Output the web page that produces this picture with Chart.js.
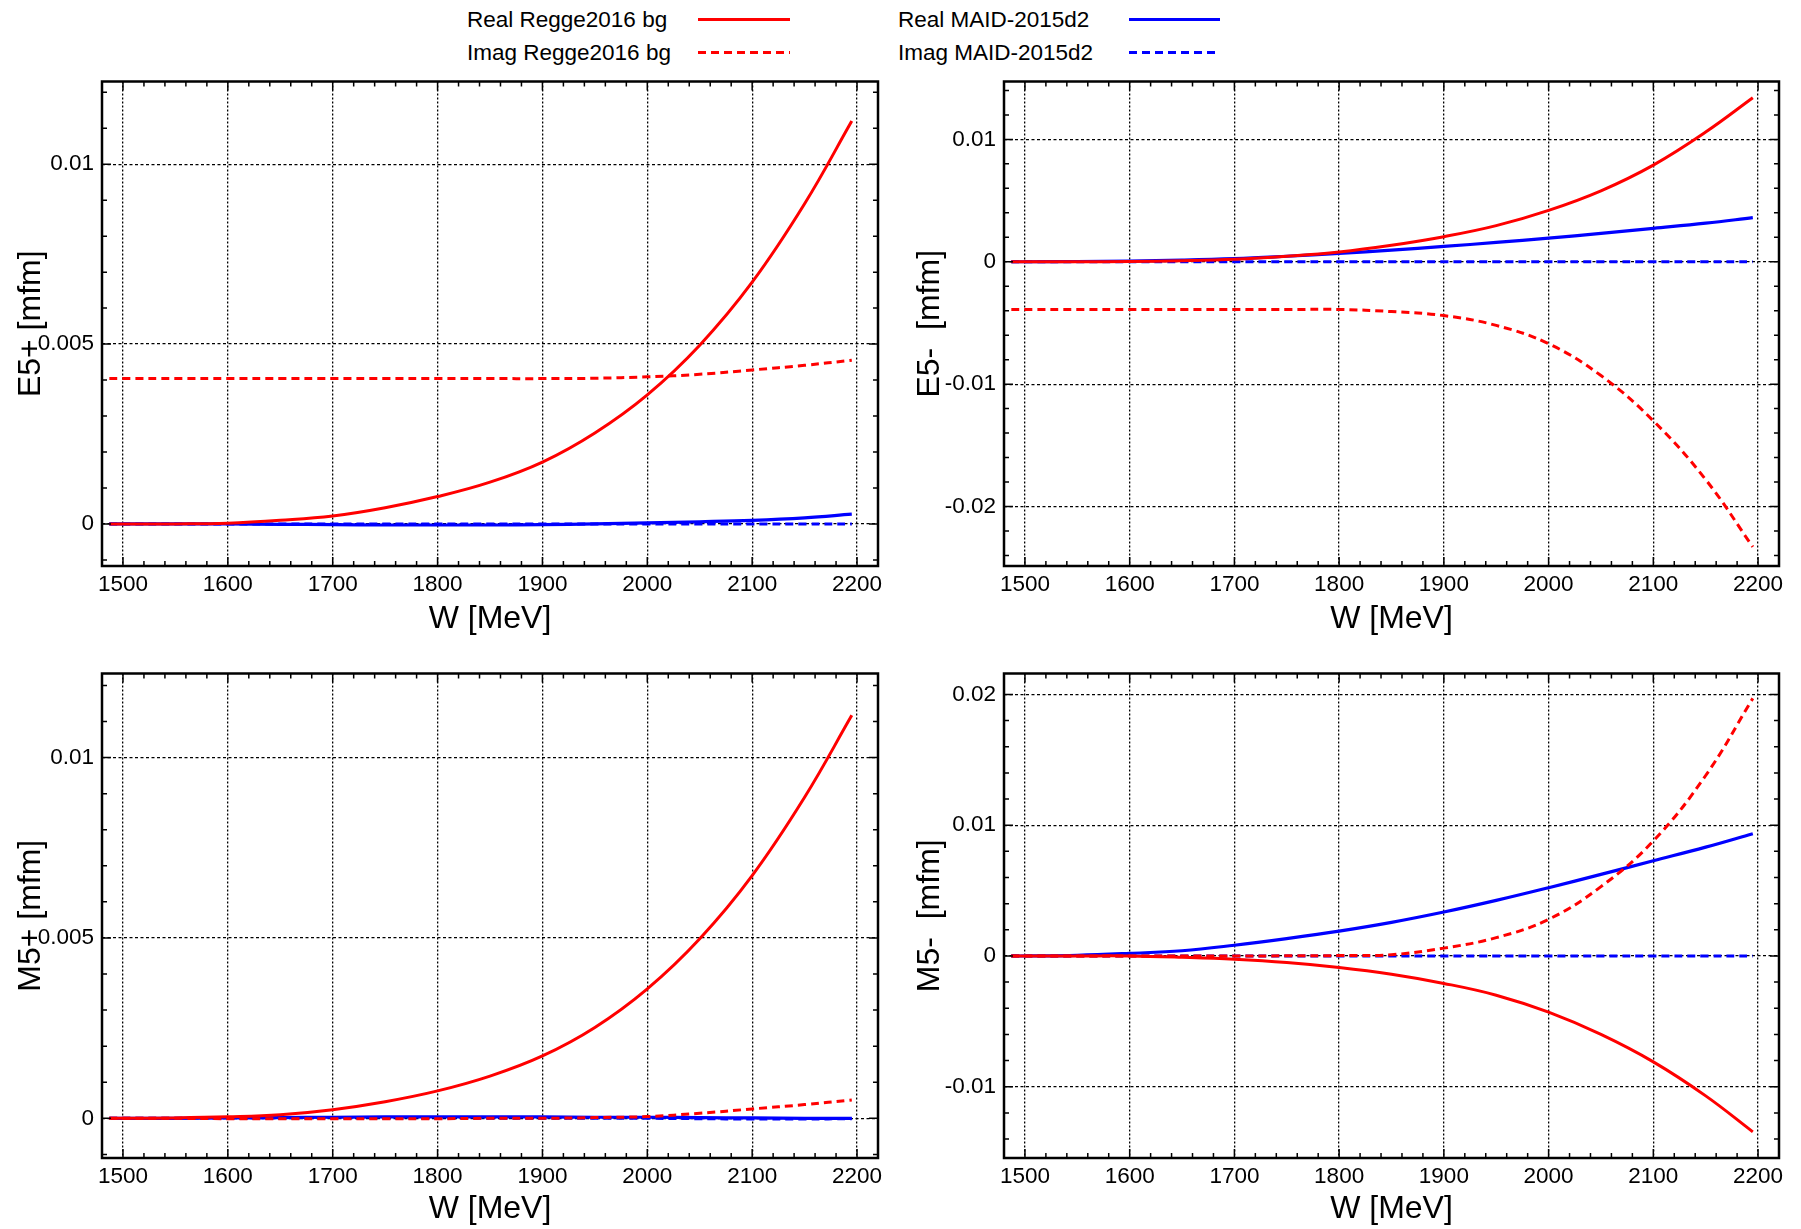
<!DOCTYPE html>
<html>
<head>
<meta charset="utf-8">
<script src="https://cdn.jsdelivr.net/npm/chart.js@4.4.1/dist/chart.umd.min.js"></script>
<style>
  body { margin: 0; background: #fff; width: 1801px; height: 1229px; position: relative; overflow: hidden;
         font-family: "Liberation Sans", Arial, sans-serif; }
  .panel { position: absolute; }
  .leg { position: absolute; font-size: 22.5px; line-height: 22px; white-space: pre; color: #000; }
  svg { position: absolute; left: 0; top: 0; }
</style>
</head>
<body>

<div class="leg" style="left:467px;top:9px">Real Regge2016 bg</div>
<div class="leg" style="left:467px;top:42px">Imag Regge2016 bg</div>
<div class="leg" style="left:898px;top:9px">Real MAID-2015d2</div>
<div class="leg" style="left:898px;top:42px">Imag MAID-2015d2</div>
<svg width="1801" height="70">
  <line x1="698" y1="19.5" x2="790" y2="19.5" stroke="#ff0000" stroke-width="3"/>
  <line x1="698" y1="52.5" x2="790" y2="52.5" stroke="#ff0000" stroke-width="3" stroke-dasharray="8,5"/>
  <line x1="1129" y1="19.5" x2="1220" y2="19.5" stroke="#0000ff" stroke-width="3"/>
  <line x1="1129" y1="52.5" x2="1220" y2="52.5" stroke="#0000ff" stroke-width="3" stroke-dasharray="8,5"/>
</svg>

<div class="panel" style="left:0px;top:60px;width:900px;height:600px"><canvas id="e5p"></canvas></div>
<div class="panel" style="left:900px;top:60px;width:901px;height:600px"><canvas id="e5m"></canvas></div>
<div class="panel" style="left:0px;top:652px;width:900px;height:577px"><canvas id="m5p"></canvas></div>
<div class="panel" style="left:900px;top:652px;width:901px;height:577px"><canvas id="m5m"></canvas></div>

<script>
// W grid (MeV), shared by every curve
const W = [1487, 1500, 1550, 1600, 1650, 1700, 1750, 1800, 1850, 1900, 1950, 2000, 2050, 2100, 2150, 2195];

// E5+
const e5pRealRegge = [0, 0, 0, 0.00002, 0.0001, 0.00022, 0.00045, 0.00076, 0.00116, 0.00172, 0.00253, 0.00359, 0.00497, 0.00672, 0.0089, 0.0112];
const e5pImagRegge = [0.00404, 0.00404, 0.00404, 0.00404, 0.00404, 0.00404, 0.00404, 0.00404, 0.00404, 0.00404, 0.00405, 0.00409, 0.00416, 0.00428, 0.00441, 0.00455];
const e5pRealMaid  = [0, 0, 0, 0, -0.00001, -0.00002, -0.00003, -0.00003, -0.00003, -0.00002, 0, 0.00003, 0.00006, 0.0001, 0.00017, 0.00027];
const e5pImagMaid  = [0, 0, 0, 0, 0, 0, 0, 0, 0, 0, 0, 0, 0, 0, 0, 0];

// E5-
const e5mRealRegge = [0, 0, 0, 0.00002, 0.00008, 0.0002, 0.00045, 0.0008, 0.00135, 0.00205, 0.00295, 0.0042, 0.0058, 0.0079, 0.0106, 0.0134];
const e5mImagRegge = [-0.0039, -0.0039, -0.0039, -0.0039, -0.0039, -0.0039, -0.0039, -0.0039, -0.00407, -0.0044, -0.0052, -0.0067, -0.0093, -0.013, -0.0178, -0.0233];
const e5mRealMaid  = [0, 0, 0.00002, 0.00006, 0.00013, 0.00025, 0.00045, 0.00068, 0.00095, 0.00125, 0.00158, 0.00193, 0.00232, 0.00273, 0.00315, 0.0036];
const e5mImagMaid  = [0, 0, 0, 0, 0, 0, 0, 0, 0, 0, 0, 0, 0, 0, 0, 0];

// M5+
const m5pRealRegge = [0, 0, 0.00001, 0.00004, 0.0001, 0.00024, 0.00046, 0.00076, 0.00117, 0.00173, 0.00252, 0.00359, 0.00498, 0.00673, 0.0089, 0.01117];
const m5pImagRegge = [0, 0, 0, -0.00001, -0.00001, -0.00001, -0.00001, -0.00001, 0, 0, 0.00002, 0.00005, 0.00014, 0.00026, 0.00038, 0.00051];
const m5pRealMaid  = [0, 0, 0, 0.00001, 0.00002, 0.00003, 0.00004, 0.00004, 0.00004, 0.00004, 0.00003, 0.00003, 0.00002, 0.00001, 0, 0];
const m5pImagMaid  = [0, 0, 0, 0, 0, 0, 0, 0, 0, 0, 0, 0, -0.00001, -0.00002, -0.00002, -0.00001];

// M5-
const m5mRealRegge = [0, 0, 0, 0, -0.0001, -0.00025, -0.0005, -0.00088, -0.0014, -0.0021, -0.003, -0.0043, -0.006, -0.0081, -0.0107, -0.01345];
const m5mImagRegge = [0, 0, 0, 0, 0, 0, 0.00001, 0.00003, 0.0001, 0.0006, 0.0014, 0.0028, 0.0053, 0.0088, 0.0138, 0.0197];
const m5mRealMaid  = [0, 0, 0.00005, 0.0002, 0.0004, 0.00082, 0.00133, 0.0019, 0.00257, 0.00336, 0.00425, 0.00522, 0.00624, 0.00728, 0.00832, 0.00935];
const m5mImagMaid  = [0, 0, 0, 0, 0, 0, 0, 0, 0, 0, 0, 0, 0, 0, 0, 0];

// axis ticks
const xTicks = [1500, 1600, 1700, 1800, 1900, 2000, 2100, 2200];
const xTickLabels = ['1500', '1600', '1700', '1800', '1900', '2000', '2100', '2200'];
const e5pTicks = [0, 0.005, 0.01];
const e5pTickLabels = ['0', '0.005', '0.01'];
const e5mTicks = [-0.02, -0.01, 0, 0.01];
const e5mTickLabels = ['-0.02', '-0.01', '0', '0.01'];
const m5pTicks = [0, 0.005, 0.01];
const m5pTickLabels = ['0', '0.005', '0.01'];
const m5mTicks = [-0.01, 0, 0.01, 0.02];
const m5mTickLabels = ['-0.01', '0', '0.01', '0.02'];

const FONT = 'Liberation Sans';

// frame + inward major/minor ticks on all four sides
const frameTicks = {
    id: 'frameTicks',
    afterDatasetsDraw(chart, args, opts) {
        const { ctx, chartArea: a } = chart;
        const x = chart.scales.x, y = chart.scales.y;
        ctx.save();
        ctx.strokeStyle = '#000';
        ctx.lineWidth = 1.5;
        ctx.beginPath();
        let k0 = Math.ceil(x.min / opts.xStep - 1e-9);
        for (let k = k0; k * opts.xStep <= x.max + 1e-9; k++) {
            let v = k * opts.xStep;
            let px = x.getPixelForValue(v);
            let len = opts.xMajor.some(m => Math.abs(m - v) < opts.xStep / 10) ? 9 : 5;
            ctx.moveTo(px, a.bottom); ctx.lineTo(px, a.bottom - len);
            ctx.moveTo(px, a.top); ctx.lineTo(px, a.top + len);
        }
        k0 = Math.ceil(y.min / opts.yStep - 1e-9);
        for (let k = k0; k * opts.yStep <= y.max + 1e-12; k++) {
            let v = k * opts.yStep;
            let py = y.getPixelForValue(v);
            let len = opts.yMajor.some(m => Math.abs(m - v) < opts.yStep / 10) ? 9 : 5;
            ctx.moveTo(a.left, py); ctx.lineTo(a.left + len, py);
            ctx.moveTo(a.right, py); ctx.lineTo(a.right - len, py);
        }
        ctx.stroke();
        ctx.lineWidth = 2.5;
        ctx.strokeRect(a.left, a.top, a.right - a.left, a.bottom - a.top);
        ctx.restore();
    }
};

function series(arr) {
    return W.map((w, i) => ({ x: w, y: arr[i] }));
}

function makePanel(id, yTitle, data, yMin, yMax, yTicks, yLabels, yStep, geo) {
    let ctx = document.getElementById(id).getContext('2d');
    return new Chart(ctx, {
        type: 'line',
        data: {
            datasets: [{
                label: 'Real Regge2016 bg', data: series(data[0]),
                borderColor: '#ff0000', borderWidth: 3
            }, {
                label: 'Imag Regge2016 bg', data: series(data[1]),
                borderColor: '#ff0000', borderWidth: 3, borderDash: [8, 5]
            }, {
                label: 'Real MAID-2015d2', data: series(data[2]),
                borderColor: '#0000ff', borderWidth: 3.2
            }, {
                label: 'Imag MAID-2015d2', data: series(data[3]),
                borderColor: '#0000ff', borderWidth: 3, borderDash: [8, 5]
            }]
        },
        options: {
            responsive: true,
            maintainAspectRatio: false,
            animation: false,
            events: [],
            elements: {
                point: { radius: 0 },
                line: { tension: 0.4, fill: false }
            },
            layout: { padding: { left: geo.padLeft, top: 21, right: geo.padRight, bottom: 0 } },
            scales: {
                x: {
                    type: 'linear',
                    min: 1480,
                    max: 2220,
                    afterBuildTicks: s => { s.ticks = xTicks.map(v => ({ value: v })); },
                    afterFit: s => { s.height = geo.xHeight; },
                    ticks: {
                        autoSkip: false, maxRotation: 0, padding: 5, color: '#000',
                        font: { family: FONT, size: 22.5 },
                        callback: (v, i) => xTickLabels[i]
                    },
                    grid: { color: '#000', lineWidth: 1.3, drawTicks: false },
                    border: { display: false, dash: [2, 2] },
                    title: {
                        display: true, text: 'W [MeV]', color: '#000',
                        font: { family: FONT, size: 32 },
                        padding: { top: 0, bottom: geo.xTitlePad }
                    }
                },
                y: {
                    type: 'linear',
                    min: yMin,
                    max: yMax,
                    afterBuildTicks: s => { s.ticks = yTicks.map(v => ({ value: v })); },
                    afterFit: s => { s.width = geo.yWidth; },
                    ticks: {
                        autoSkip: false, padding: 8, color: '#000',
                        font: { family: FONT, size: 22.5 },
                        callback: (v, i) => yLabels[i]
                    },
                    grid: { color: '#000', lineWidth: 1.2, drawTicks: false },
                    border: { display: false, dash: [3, 2.5] },
                    title: {
                        display: true, text: yTitle, color: '#000',
                        font: { family: FONT, size: 32 },
                        padding: { top: 4, bottom: 0 }
                    }
                }
            },
            plugins: {
                legend: { display: false },
                tooltip: { enabled: false },
                frameTicks: { xStep: 20, xMajor: xTicks, yStep: yStep, yMajor: yTicks }
            }
        },
        plugins: [frameTicks]
    });
}

const topGeoL = { padLeft: 8, padRight: 22, yWidth: 94, xHeight: 94, xTitlePad: 22 };
const topGeoR = { padLeft: 7, padRight: 22, yWidth: 97, xHeight: 94, xTitlePad: 22 };
const botGeoL = { padLeft: 8, padRight: 22, yWidth: 94, xHeight: 71, xTitlePad: 1 };
const botGeoR = { padLeft: 7, padRight: 22, yWidth: 97, xHeight: 71, xTitlePad: 1 };

makePanel('e5p', 'E5+ [mfm]', [e5pRealRegge, e5pImagRegge, e5pRealMaid, e5pImagMaid],
    -0.00117, 0.0123, e5pTicks, e5pTickLabels, 0.001, topGeoL);
makePanel('e5m', 'E5-  [mfm]', [e5mRealRegge, e5mImagRegge, e5mRealMaid, e5mImagMaid],
    -0.02486, 0.01473, e5mTicks, e5mTickLabels, 0.002, topGeoR);
makePanel('m5p', 'M5+ [mfm]', [m5pRealRegge, m5pImagRegge, m5pRealMaid, m5pImagMaid],
    -0.0011, 0.01233, m5pTicks, m5pTickLabels, 0.001, botGeoL);
makePanel('m5m', 'M5-  [mfm]', [m5mRealRegge, m5mImagRegge, m5mRealMaid, m5mImagMaid],
    -0.01545, 0.0216, m5mTicks, m5mTickLabels, 0.002, botGeoR);
</script>
</body>
</html>
